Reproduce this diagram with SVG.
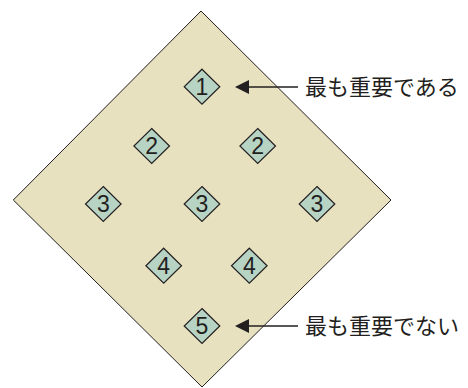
<svg xmlns="http://www.w3.org/2000/svg" width="468" height="388" viewBox="0 0 468 388">
<defs>
<style>
.big{fill:#e7e1c0;stroke:#231f20;stroke-width:1}
.sd{fill:#b7d3c3;stroke:#231f20;stroke-width:1.2}
.num{font-family:"Liberation Sans",Arial,sans-serif;font-size:23px;fill:#231f20;text-anchor:middle}
.lbl{font-family:"Noto Sans CJK JP","Noto Sans CJK SC",sans-serif;font-size:22px;fill:#231f20}
.ln{stroke:#231f20;stroke-width:1.6;fill:none}
.ah{fill:#231f20}
</style>
<path id="sm" d="M0,-17.5 L17.8,0 L0,17.5 L-17.8,0 Z"/>
</defs>
<g id="field"><path class="big" d="M201,11 L391,200 L202,387 L13.3,200 Z"/></g>
<g id="n1"><use href="#sm" class="sd" x="202" y="86.7"/><text class="num" x="202" y="95">1</text></g>
<g id="n2a"><use href="#sm" class="sd" x="151.7" y="146"/><text class="num" x="151.7" y="154.3">2</text></g>
<g id="n2b"><use href="#sm" class="sd" x="257.7" y="146"/><text class="num" x="257.7" y="154.3">2</text></g>
<g id="n3a"><use href="#sm" class="sd" x="103.3" y="204"/><text class="num" x="103.3" y="212.3">3</text></g>
<g id="n3b"><use href="#sm" class="sd" x="202" y="204"/><text class="num" x="202" y="212.3">3</text></g>
<g id="n3c"><use href="#sm" class="sd" x="317" y="204"/><text class="num" x="317" y="212.3">3</text></g>
<g id="n4a"><use href="#sm" class="sd" x="163.7" y="265.7"/><text class="num" x="163.7" y="274">4</text></g>
<g id="n4b"><use href="#sm" class="sd" x="249.3" y="265.7"/><text class="num" x="249.3" y="274">4</text></g>
<g id="n5"><use href="#sm" class="sd" x="202" y="326"/><text class="num" x="202" y="334.3">5</text></g>
<g id="connectors">
<line class="ln" x1="298" y1="87" x2="246" y2="87"/>
<path class="ah" d="M235,87 L249,80 L249,94 Z"/>
<line class="ln" x1="298" y1="326" x2="246" y2="326"/>
<path class="ah" d="M235,326 L249,319 L249,333 Z"/>
</g>
<g id="labels">
<text class="lbl" x="305" y="95">最も重要である</text>
<text class="lbl" x="305" y="334">最も重要でない</text>
</g>
</svg>
